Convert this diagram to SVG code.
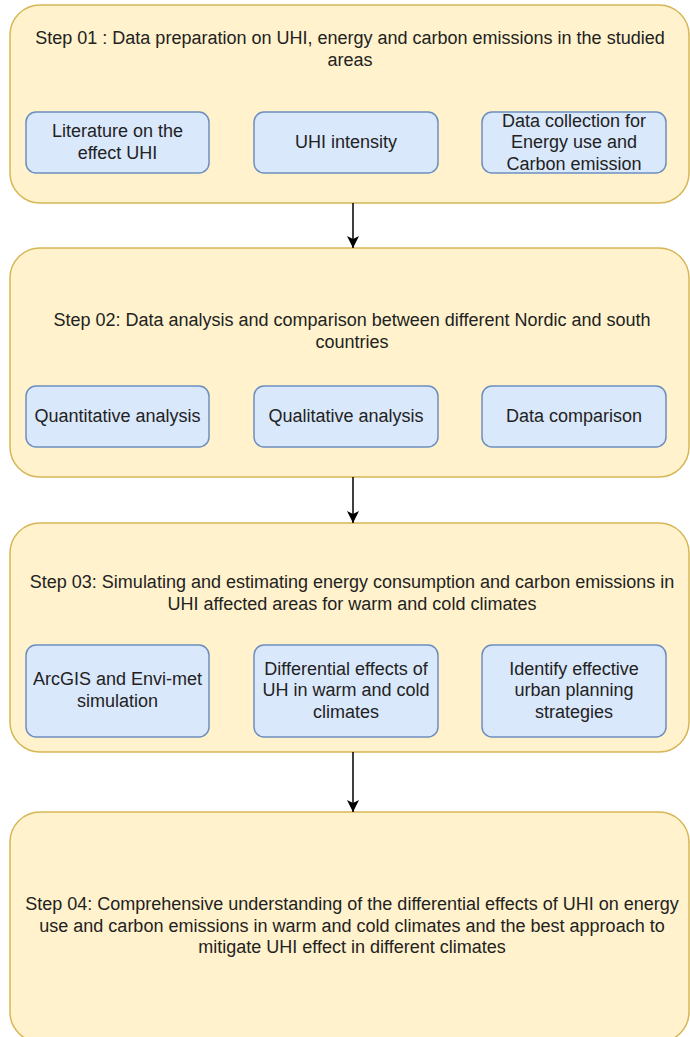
<svg xmlns="http://www.w3.org/2000/svg" width="690" height="1037" viewBox="0 0 690 1037">
<style>
.outer{fill:#FFF2CC;stroke:#D6B656;stroke-width:1.5}
.inner{fill:#DAE8FC;stroke:#6C8EBF;stroke-width:1.5}
text{font-family:"Liberation Sans",Arial,Helvetica,sans-serif;font-size:18px;fill:#222;text-anchor:middle}
.conn{stroke:#000;stroke-width:1.5;fill:none}
</style>
<defs>
<marker id="arr" viewBox="0 0 12 12" refX="12" refY="6" markerWidth="12" markerHeight="12" orient="auto" markerUnits="userSpaceOnUse">
<path d="M0,0 L12,6 L0,12 L3,6 Z" fill="#000"/>
</marker>
</defs>
<rect width="690" height="1037" fill="#fff"/>

<g id="step01">
<rect class="outer" x="10" y="5" width="679" height="198" rx="30" ry="30"/>
<text x="350" y="44">Step 01 : Data preparation on UHI, energy and carbon emissions in the studied</text>
<text x="350" y="66">areas</text>
</g>
<g id="s1-literature">
<rect class="inner" x="26" y="112" width="183" height="61" rx="10" ry="10"/>
<text x="117.5" y="137">Literature on the</text>
<text x="117.5" y="159">effect UHI</text>
</g>
<g id="s1-uhi-intensity">
<rect class="inner" x="254" y="112" width="184" height="61" rx="10" ry="10"/>
<text x="346" y="148">UHI intensity</text>
</g>
<g id="s1-data-collection">
<rect class="inner" x="482" y="112" width="184" height="61" rx="10" ry="10"/>
<text x="574" y="127">Data collection for</text>
<text x="574" y="148">Energy use and</text>
<text x="574" y="170">Carbon emission</text>
</g>

<g id="step02">
<rect class="outer" x="10" y="248" width="679" height="229" rx="30" ry="30"/>
<text x="352" y="326">Step 02: Data analysis and comparison between different Nordic and south</text>
<text x="352" y="348">countries</text>
</g>
<g id="s2-quantitative">
<rect class="inner" x="26" y="386" width="183" height="61" rx="10" ry="10"/>
<text x="117.5" y="422">Quantitative analysis</text>
</g>
<g id="s2-qualitative">
<rect class="inner" x="254" y="386" width="184" height="61" rx="10" ry="10"/>
<text x="346" y="422">Qualitative analysis</text>
</g>
<g id="s2-comparison">
<rect class="inner" x="482" y="386" width="184" height="61" rx="10" ry="10"/>
<text x="574" y="422">Data comparison</text>
</g>

<g id="step03">
<rect class="outer" x="10" y="523" width="679" height="229" rx="30" ry="30"/>
<text x="352" y="588">Step 03: Simulating and estimating energy consumption and carbon emissions in</text>
<text x="352" y="610">UHI affected areas for warm and cold climates</text>
</g>
<g id="s3-arcgis">
<rect class="inner" x="26" y="645" width="183" height="92" rx="10" ry="10"/>
<text x="117.5" y="685">ArcGIS and Envi-met</text>
<text x="117.5" y="707">simulation</text>
</g>
<g id="s3-differential">
<rect class="inner" x="254" y="645" width="184" height="92" rx="10" ry="10"/>
<text x="346" y="675">Differential effects of</text>
<text x="346" y="696">UH in warm and cold</text>
<text x="346" y="718">climates</text>
</g>
<g id="s3-identify">
<rect class="inner" x="482" y="645" width="184" height="92" rx="10" ry="10"/>
<text x="574" y="675">Identify effective</text>
<text x="574" y="696">urban planning</text>
<text x="574" y="718">strategies</text>
</g>

<g id="step04">
<rect class="outer" x="10" y="812" width="679" height="230" rx="30" ry="30"/>
<text x="352" y="910">Step 04: Comprehensive understanding of the differential effects of UHI on energy</text>
<text x="352" y="932">use and carbon emissions in warm and cold climates and the best approach to</text>
<text x="352" y="953">mitigate UHI effect in different climates</text>
</g>

<g id="connectors">
<line class="conn" x1="353" y1="203" x2="353" y2="248" marker-end="url(#arr)"/>
<line class="conn" x1="353" y1="477" x2="353" y2="523" marker-end="url(#arr)"/>
<line class="conn" x1="353" y1="752" x2="353" y2="812" marker-end="url(#arr)"/>
</g>
</svg>
